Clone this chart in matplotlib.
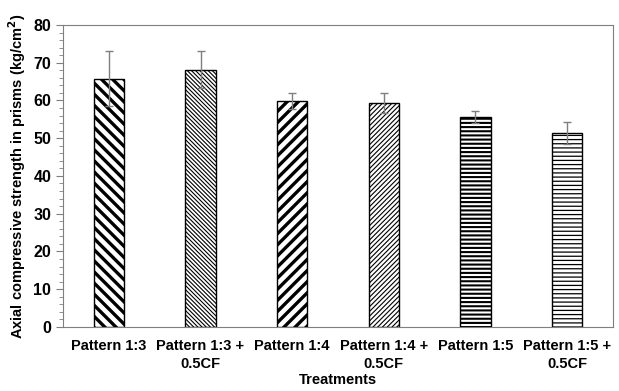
import matplotlib
matplotlib.use("Agg")
import matplotlib.pyplot as plt
from matplotlib.ticker import MultipleLocator

plt.rcParams["font.family"] = ["Liberation Sans", "DejaVu Sans"]
plt.rcParams["font.weight"] = "bold"
plt.rcParams["mathtext.default"] = "bf"

treatments = ["Pattern 1:3", "Pattern 1:3 +\n0.5CF", "Pattern 1:4", "Pattern 1:4 +\n0.5CF",
              "Pattern 1:5", "Pattern 1:5 +\n0.5CF"]
strength = [65.8, 68.2, 59.9, 59.3, 55.7, 51.4]
err = [7.3, 5.0, 2.1, 2.7, 1.6, 2.9]

hatches = ["\\" * 3, "\\" * 8, "/" * 3, "/" * 7, "-" * 4, "-" * 4]
hatch_lw = [2.4, 0.8, 2.4, 0.8, 1.5, 0.9]
hatch_col = ["black", "#555555", "black", "#555555", "black", "#555555"]

fig = plt.figure(figsize=(6.19, 3.91), dpi=100)
ax = fig.add_axes([0.102, 0.164, 0.888, 0.772])

x = range(len(treatments))
bars = ax.bar(x, strength, width=0.33, color="white", edgecolor="black", linewidth=1.0,
              yerr=err, error_kw=dict(ecolor="#7f7f7f", elinewidth=1.0, capsize=3, capthick=1.0))
for b, h, lw, hc in zip(bars, hatches, hatch_lw, hatch_col):
    b.set_hatch(h)
    if hasattr(b, "set_hatch_linewidth"):
        b.set_hatch_linewidth(lw)
    if hasattr(b, "set_hatchcolor"):
        b.set_hatchcolor(hc)

ax.set_xlim(-0.5, 5.5)
ax.set_ylim(0, 80)
ax.yaxis.set_major_locator(MultipleLocator(10))
ax.yaxis.set_minor_locator(MultipleLocator(2))
ax.tick_params(axis="y", which="major", direction="out", length=5, color="#7f7f7f", labelsize=11.5)
ax.tick_params(axis="y", which="minor", direction="out", length=3, color="#7f7f7f")
ax.tick_params(axis="x", length=0, labelsize=10.5, pad=9)
ax.set_xticks(list(x))
ax.set_xticklabels(treatments, linespacing=1.3)
for s in ax.spines.values():
    s.set_color("#7f7f7f")

ax.set_xlabel("Treatments", fontsize=10.5, fontweight="bold", labelpad=2)
ax.set_ylabel("Axial compressive strength in prisms (kg/cm$^2$)", fontsize=10.5, fontweight="bold")

fig.savefig("out.png", dpi=100)
